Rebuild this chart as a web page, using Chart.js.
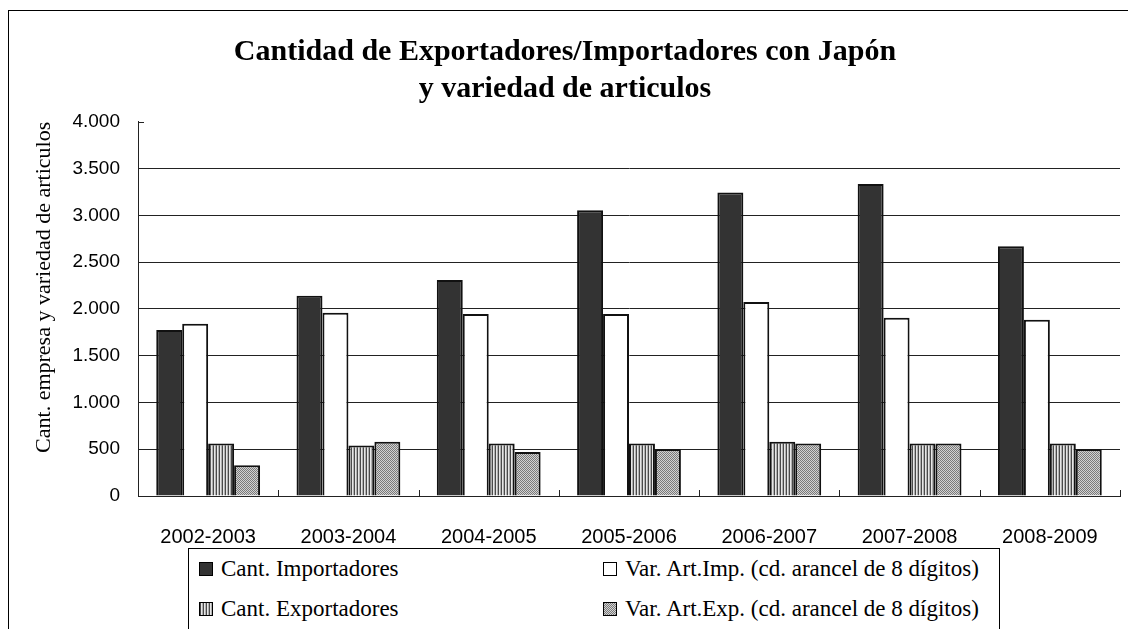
<!DOCTYPE html>
<html lang="es">
<head>
<meta charset="utf-8">
<title>Cantidad de Exportadores/Importadores con Japón</title>
<script src="https://cdn.jsdelivr.net/npm/chart.js@4/dist/chart.umd.min.js"></script>
<style>
  html, body { margin: 0; padding: 0; background: #fff; overflow: hidden; }
  #wrap { position: relative; width: 1128px; height: 629px; overflow: hidden; }
  #frame { position: absolute; left: 8px; top: 10px; width: 1200px; height: 700px; border: 1px solid #000; }
  #chart { position: absolute; left: 0; top: 0; }
  #legend {
    position: absolute; left: 188px; top: 548px; width: 810px; height: 110px;
    border: 1px solid #000; background: #fff;
    font-family: 'Liberation Serif', 'Times New Roman', serif; font-size: 23px; color: #000;
  }
  .item { position: absolute; display: flex; align-items: center; height: 30px; white-space: nowrap; }
  .item canvas { border: 1.5px solid #000; margin-right: 8px; }
</style>
</head>
<body>
<div id="wrap">
  <div id="frame"></div>
  <canvas id="chart" width="1128" height="629"></canvas>
  <div id="legend"></div>
</div>

<script>
// --- Données ---
const categories   = ['2002-2003', '2003-2004', '2004-2005', '2005-2006', '2006-2007', '2007-2008', '2008-2009'];
const importadores = [1775, 2140, 2310, 3055, 3245, 3335, 2670];
const varArtImp    = [1840, 1960, 1945, 1945, 2075, 1905, 1885];
const exportadores = [560, 540, 560, 560, 580, 560, 560];
const varArtExp    = [330, 580, 470, 500, 560, 560, 500];
const seriesLabels = [
  'Cant. Importadores',
  'Var. Art.Imp. (cd. arancel de 8 dígitos)',
  'Cant. Exportadores',
  'Var. Art.Exp. (cd. arancel de 8 dígitos)',
];
const yMax  = 4000;
const yStep = 500;

// --- Motifs de remplissage ---
function makePattern(w, h, draw) {
  const c = document.createElement('canvas');
  c.width = w; c.height = h;
  const g = c.getContext('2d');
  draw(g);
  return g.createPattern(c, 'repeat');
}

const stripes = makePattern(3, 4, g => {
  g.fillStyle = '#e6e6e6'; g.fillRect(0, 0, 3, 4);
  g.fillStyle = '#4a4a4a'; g.fillRect(0, 0, 1, 4);
  g.fillStyle = '#b0b0b0'; g.fillRect(2, 0, 1, 4);
});

const dots = makePattern(2, 2, g => {
  g.fillStyle = '#d2d2d2'; g.fillRect(0, 0, 2, 2);
  g.fillStyle = '#7a7a7a'; g.fillRect(0, 0, 1, 1); g.fillRect(1, 1, 1, 1);
});

const fills = ['#333333', '#ffffff', stripes, dots];

// petites graduations vers l'intérieur (haut de l'axe Y, séparations des catégories)
const innerTicks = {
  id: 'innerTicks',
  afterDraw(chart) {
    const { ctx, chartArea: a, scales: { y } } = chart;
    ctx.save();
    ctx.strokeStyle = '#222';
    ctx.lineWidth = 1;
    ctx.beginPath();
    const yt = Math.round(y.getPixelForValue(yMax)) + 0.5;
    ctx.moveTo(a.left, yt);
    ctx.lineTo(a.left + 6, yt);
    const step = a.width / categories.length;
    for (let i = 1; i <= categories.length; i++) {
      const xx = Math.round(a.left + i * step) + 0.5;
      ctx.moveTo(xx, a.bottom);
      ctx.lineTo(xx, a.bottom - 6);
    }
    ctx.stroke();
    ctx.restore();
  },
};

const fmt = v => String(v).replace(/\B(?=(\d{3})+(?!\d))/g, '.');

const dataSeries = [importadores, varArtImp, exportadores, varArtExp];

const chart = new Chart(document.getElementById('chart'), {
  type: 'bar',
  data: {
    labels: categories,
    datasets: dataSeries.map((d, i) => ({
      label: seriesLabels[i],
      data: d,
      backgroundColor: fills[i],
      borderColor: '#111',
      borderWidth: 2,
      borderSkipped: 'bottom',
      categoryPercentage: 0.74,
      barPercentage: 1.0,
    })),
  },
  options: {
    responsive: false,
    animation: false,
    layout: { padding: { left: 10, right: 8, top: 34, bottom: 78 } },
    plugins: {
      legend: { display: false },
      tooltip: { enabled: false },
      title: {
        display: true,
        text: ['Cantidad de Exportadores/Importadores con Japón', 'y variedad de articulos'],
        color: '#000',
        font: { family: "'Liberation Serif', 'Times New Roman', serif", size: 30, weight: 'bold', lineHeight: 1.23 },
        padding: { top: 0, bottom: 14 },
      },
    },
    scales: {
      x: {
        grid: { display: false },
        border: { display: true, color: '#222', width: 1 },
        ticks: {
          color: '#000',
          padding: 21,
          font: { family: "'Liberation Sans', Arial, sans-serif", size: 20 },
        },
        afterFit(scale) { scale.height = 55; },
      },
      y: {
        min: 0,
        max: yMax,
        ticks: {
          stepSize: yStep,
          color: '#000',
          padding: 18,
          font: { family: "'Liberation Sans', Arial, sans-serif", size: 19 },
          callback: v => fmt(v),
        },
        grid: {
          drawTicks: false,
          color: ctx => (ctx.tick && ctx.tick.value === yMax ? 'rgba(0,0,0,0)' : '#222'),
        },
        border: { display: true, color: '#222', width: 1 },
        title: {
          display: true,
          align: 'end',
          text: 'Cant. empresa y variedad de articulos',
          color: '#000',
          padding: { top: 21, bottom: 0 },
          font: { family: "'Liberation Serif', 'Times New Roman', serif", size: 22 },
        },
        afterFit(scale) { scale.width = 128; },
      },
    },
  },
  plugins: [innerTicks],
});

// --- Légende (2 colonnes, encadrée) ---
function renderLegend() {
  const box = document.getElementById('legend');
  const colX = [10, 414];
  const rowY = [5, 45];
  chart.data.datasets.forEach((ds, i) => {
    const item = document.createElement('div');
    item.className = 'item';
    item.style.left = colX[i % 2] + 'px';
    item.style.top  = rowY[Math.floor(i / 2)] + 'px';
    const sw = document.createElement('canvas');
    sw.width = 12; sw.height = 12;
    const g = sw.getContext('2d');
    g.fillStyle = ds.backgroundColor;
    g.fillRect(0, 0, 12, 12);
    const txt = document.createElement('span');
    txt.textContent = ds.label;
    item.appendChild(sw);
    item.appendChild(txt);
    box.appendChild(item);
  });
}

renderLegend();
</script>
</body>
</html>
